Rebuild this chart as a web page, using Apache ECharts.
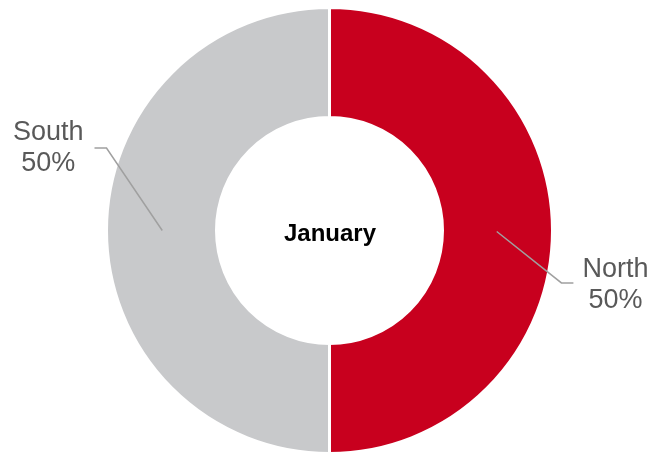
<!DOCTYPE html>
<html><head><meta charset="utf-8">
<script src="https://cdn.jsdelivr.net/npm/echarts@6/dist/echarts.min.js"></script>
<style>html,body{margin:0;padding:0;background:#fff}#c{width:653px;height:455px}</style>
</head><body><div id="c"></div>
<script>
const categories = ['North', 'South'];
const values = [50, 50];
const colors = ['#C8001E', '#C8C9CB'];
const centerTitle = 'January';

const chart = echarts.init(document.getElementById('c'), null, {renderer: 'canvas'});
const data = categories.map((n, i) => ({name: n, value: values[i], itemStyle: {color: colors[i]}}));
const overlayData = categories.map((n, i) => ({name: n, value: values[i]}));

function layoutLabel(params) {
  const r = params.rect;
  const isLeft = r.x + r.width / 2 < chart.getWidth() / 2;
  const R = r.width;
  const cy = r.y + r.height / 2;
  const lw = params.labelRect.width;
  if (isLeft) {
    const cx = r.x + r.width;
    const p0 = [cx - 0.75 * R, cy];
    const p1 = [p0[0] - 0.25 * R, cy - 0.37 * R];
    const p2 = [p1[0] - 12, p1[1]];
    return {x: p2[0] - 11 - lw / 2, y: p1[1], align: 'center', verticalAlign: 'middle', labelLinePoints: [p0, p1, p2]};
  } else {
    const cx = r.x;
    const p0 = [cx + 0.75 * R, cy + 1];
    const p1 = [p0[0] + 0.29 * R, cy + 0.235 * R];
    const p2 = [p1[0] + 12, p1[1]];
    return {x: p2[0] + 9 + lw / 2, y: p1[1] + 2, align: 'center', verticalAlign: 'middle', labelLinePoints: [p0, p1, p2]};
  }
}

const common = {
  type: 'pie',
  center: [329.5, 230.5],
  radius: [113, 223],
  startAngle: 90,
  clockwise: true,
  avoidLabelOverlap: false,
  emphasis: {disabled: true}
};

chart.setOption({
  animation: false,
  backgroundColor: '#ffffff',
  graphic: [{
    type: 'text', x: 330, y: 234,
    style: {text: centerTitle, align: 'center', verticalAlign: 'middle',
            font: 'bold 24px "Liberation Sans", Arial, sans-serif', fill: '#000000'}
  }],
  series: [
    Object.assign({}, common, {
      z: 2,
      itemStyle: {borderColor: '#ffffff', borderWidth: 3},
      label: {show: false},
      labelLine: {show: false},
      data: data
    }),
    Object.assign({}, common, {
      z: 10,
      silent: true,
      itemStyle: {color: 'rgba(0,0,0,0)', borderWidth: 0},
      label: {
        show: true, position: 'outside',
        formatter: '{b}\n{d}%',
        fontFamily: '"Liberation Sans", Arial, sans-serif',
        fontSize: 27, lineHeight: 31, color: '#595959', align: 'center'
      },
      labelLine: {show: true, showAbove: true, length: 20, length2: 12, lineStyle: {color: '#a0a0a0', width: 1.5}},
      labelLayout: layoutLabel,
      data: overlayData
    })
  ]
});
</script>
</body></html>
